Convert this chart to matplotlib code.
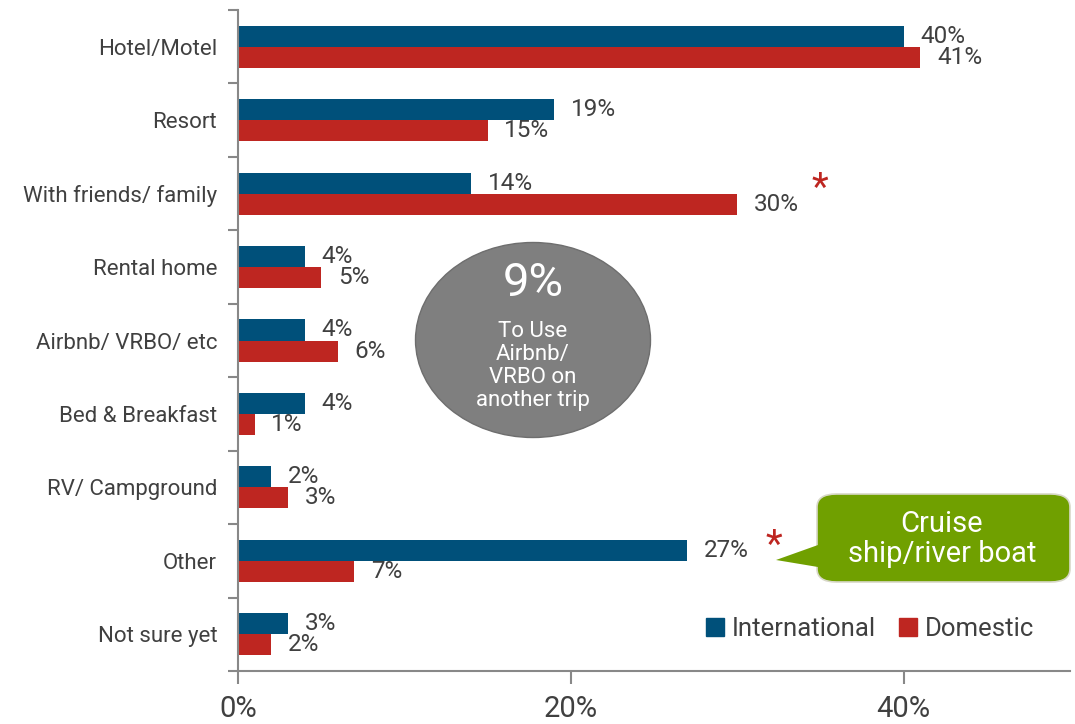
import numpy as np
import matplotlib.pyplot as plt
from matplotlib.patches import Ellipse, FancyBboxPatch, Polygon, Patch

plt.rcParams['font.family'] = ['Roboto', 'DejaVu Sans']

###--- Data ---###
categories = ["Hotel/Motel", "Resort", "With friends/ family", "Rental home",
              "Airbnb/ VRBO/ etc", "Bed & Breakfast", "RV/ Campground",
              "Other", "Not sure yet"]
international = [40, 19, 14, 4, 4, 4, 2, 27, 3]
domestic = [41, 15, 30, 5, 6, 1, 3, 7, 2]
xticks = [0, 20, 40]

blue = '#00507a'
red = '#be2621'
txt = '#404040'
W, H = 1075, 724

fig = plt.figure(figsize=(W / 100, H / 100), dpi=100)
ax = fig.add_axes([238 / W, 1 - 671 / H, (1070 - 238) / W, (671 - 10) / H])

y = np.arange(len(categories))
h = 0.286
ax.barh(y - h / 2, international, height=h, color=blue, label='International')
ax.barh(y + h / 2, domestic, height=h, color=red, label='Domestic')

# value labels
for i in range(len(categories)):
    ax.text(international[i] + 1.0, y[i] - h / 2, f"{international[i]}%",
            va='center', ha='left', fontsize=17.5, color=txt)
    ax.text(domestic[i] + 1.0, y[i] + h / 2, f"{domestic[i]}%",
            va='center', ha='left', fontsize=17.5, color=txt)

ax.set_xlim(0, 50)
ax.set_ylim(len(categories) - 0.5, -0.5)

ax.set_yticks(y)
ax.set_yticklabels(categories, fontsize=16, color=txt)
ax.set_yticks(np.arange(-0.5, len(categories)), minor=True)
ax.tick_params(axis='y', which='major', length=0, pad=15)
ax.tick_params(axis='y', which='minor', length=7, color='#888888', width=1.5)

ax.set_xticks(xticks)
ax.set_xticklabels([f"{t}%" for t in xticks], fontsize=21, color=txt)
ax.tick_params(axis='x', length=9, color='#888888', width=1.5, pad=8)

for s in ['top', 'right']:
    ax.spines[s].set_visible(False)
for s in ['left', 'bottom']:
    ax.spines[s].set_color('#888888')
    ax.spines[s].set_linewidth(1.5)

# asterisks
ax.text(domestic[2] + 5.0, y[2] + h / 2 - 0.2, "*", color=red, fontsize=28,
        ha='center', va='center')
ax.text(international[7] + 5.2, y[7] - h / 2 - 0.05, "*", color=red, fontsize=28,
        ha='center', va='center')

# figure pixel helper
def px(xp, yp):
    return (xp / W, 1 - yp / H)

# gray bubble
ell = Ellipse(px(533, 340), 235 / W, 195 / H, transform=fig.transFigure,
              facecolor='#7f7f7f', edgecolor='#6e6e6e', lw=1, zorder=5)
fig.add_artist(ell)
fig.text(*px(533, 283), "9%", color='white', fontsize=34, ha='center', va='center', zorder=6)
fig.text(*px(533, 366), "To Use\nAirbnb/\nVRBO on\nanother trip", color='white',
         fontsize=16, ha='center', va='center', linespacing=1.12, zorder=6)

# green callout
green = '#70a000'
box = FancyBboxPatch(px(817, 582), (1070 - 817) / W, (582 - 494) / H,
                     boxstyle='round,pad=0,rounding_size=0.018',
                     transform=fig.transFigure, facecolor=green,
                     edgecolor='#d8d8c8', lw=1.2, zorder=5)
fig.add_artist(box)
tri = Polygon([px(818, 545), px(776, 560), px(818, 567)], closed=True,
              transform=fig.transFigure, facecolor=green, edgecolor='none', zorder=6)
fig.add_artist(tri)
fig.text(*px(942, 539), "Cruise\nship/river boat", color='white', fontsize=21,
         ha='center', va='center', linespacing=1.1, zorder=7)

# legend
handles = [Patch(color=blue, label='International'), Patch(color=red, label='Domestic')]
ax.legend(handles=handles, loc='center left', bbox_to_anchor=(0.535, 0.063),
          ncol=2, frameon=False, fontsize=18.5, handlelength=0.7, handleheight=0.7,
          handletextpad=0.3, columnspacing=0.9, labelcolor=txt)

fig.savefig('out.png', dpi=100)
